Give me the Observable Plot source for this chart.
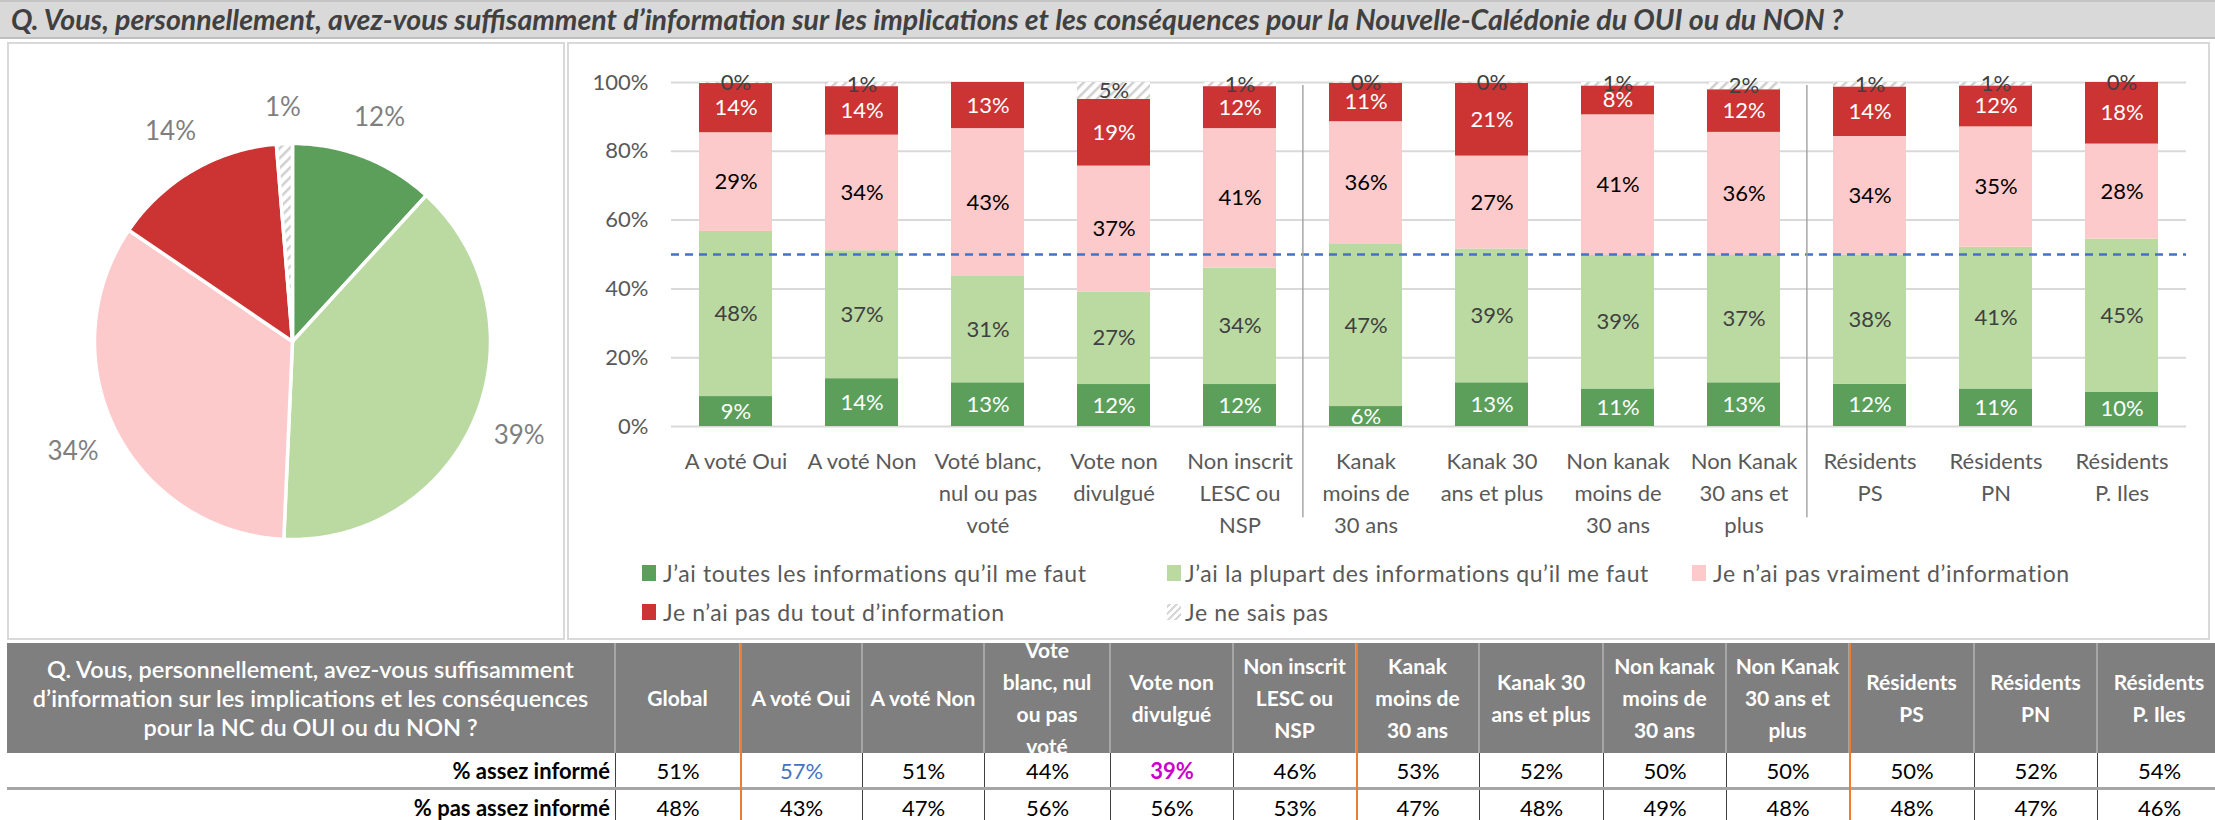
<!DOCTYPE html>
<html>
<head>
<meta charset="utf-8">
<script src="https://cdn.jsdelivr.net/npm/d3@7"></script>
<script src="https://cdn.jsdelivr.net/npm/@observablehq/plot@0.6"></script>
<style>
  html, body { margin: 0; padding: 0; background: #fff; }
  body { font-family: Lato, "Open Sans", sans-serif; }
  #root { position: relative; width: 2215px; height: 820px; overflow: hidden; background: #fff; }
  .abs { position: absolute; }
  #title { position: absolute; left: 0; top: 0; width: 2215px; height: 35px; background: #d9d9d9;
           border-top: 2px solid #c4c4c4; border-bottom: 2px solid #bfbfbf;
           font-weight: 700; font-style: italic; font-size: 28.5px; color: #404040;
           line-height: 35px; padding-left: 11px; box-sizing: content-box; white-space: nowrap; }
  .panel { position: absolute; border: 2px solid #d9d9d9; box-sizing: border-box; background: #fff; }
  .cell { position: absolute; display: flex; align-items: center; justify-content: center; overflow: hidden;
          box-sizing: border-box; white-space: pre-line; text-align: center; }
  .lg-sw { position: absolute; width: 14px; height: 16px; }
  .lg-tx { position: absolute; font-size: 23px; letter-spacing: 0.6px; color: #595959; white-space: nowrap; line-height: 24px; }
</style>
</head>
<body>
<div id="root">
  <svg width="0" height="0" style="position:absolute">
    <defs>
      <pattern id="hatch" patternUnits="userSpaceOnUse" width="7" height="7" patternTransform="rotate(45)">
        <rect width="7" height="7" fill="#ffffff"></rect>
        <rect width="2.5" height="7" fill="#cfcfcf"></rect>
      </pattern>
    </defs>
  </svg>
  <div id="title"></div>
  <div class="panel" style="left:7px;top:42px;width:558px;height:598px"></div>
  <div class="panel" style="left:567px;top:42px;width:1643px;height:598px"></div>
  <div id="pie" class="abs" style="left:7px;top:42px"></div>
  <div id="bars" class="abs" style="left:568px;top:42px"></div>
  <div id="legend"></div>
  <div id="table"></div>
</div>
<script>
// ---------------- DATA ----------------
const titleText = "Q. Vous, personnellement, avez-vous suffisamment d’information sur les implications et les conséquences pour la Nouvelle-Calédonie du OUI ou du NON ?";

const series = [
  "J’ai toutes les informations qu’il me faut",
  "J’ai la plupart des informations qu’il me faut",
  "Je n’ai pas vraiment d’information",
  "Je n’ai pas du tout d’information",
  "Je ne sais pas"
];
const seriesColors = ["#5b9f5b", "#badaa2", "#fdcacb", "#cc3333", "url(#hatch)"];
const labelColors = ["#ffffff", "#404040", "#000000", "#ffffff", "#404040"];

// Pie (Global)
const pieValues = [11.8, 38.9, 33.8, 14.2, 1.3];

// Stacked bars
const categories = ["A voté Oui", "A voté Non", "Voté blanc, nul ou pas voté", "Vote non divulgué",
  "Non inscrit LESC ou NSP", "Kanak moins de 30 ans", "Kanak 30 ans et plus", "Non kanak moins de 30 ans",
  "Non Kanak 30 ans et plus", "Résidents PS", "Résidents PN", "Résidents P. Iles"];
const categoryLabels = ["A voté Oui", "A voté Non", "Voté blanc,\nnul ou pas\nvoté", "Vote non\ndivulgué",
  "Non inscrit\nLESC ou\nNSP", "Kanak\nmoins de\n30 ans", "Kanak 30\nans et plus", "Non kanak\nmoins de\n30 ans",
  "Non Kanak\n30 ans et\nplus", "Résidents\nPS", "Résidents\nPN", "Résidents\nP. Iles"];
const toutes      = [8.7, 13.9, 12.7, 12.2, 12.2, 5.8, 12.7, 10.9, 12.7, 12.3, 10.9, 10.0];
const plupart     = [48.0, 37.2, 30.9, 26.8, 33.8, 47.1, 38.9, 38.8, 37.0, 37.6, 41.2, 44.5];
const pasVraiment = [28.7, 33.6, 43.0, 36.7, 40.6, 35.7, 27.0, 40.9, 35.8, 34.4, 35.0, 27.6];
const pasDuTout   = [14.3, 14.1, 13.4, 19.4, 12.2, 11.2, 21.2, 8.4, 12.4, 14.4, 11.9, 17.9];
const nsp         = [0.3, 1.2, null, 4.9, 1.2, 0.2, 0.2, 1.0, 2.1, 1.3, 1.0, 0.0];
const groupStarts = ["Kanak moins de 30 ans", "Résidents PS"];
const yTicks = [0, 20, 40, 60, 80, 100];
const threshold = 50;

// Table
const tableQuestion = "Q. Vous, personnellement, avez-vous suffisamment\nd’information sur les implications et les conséquences\npour la NC du OUI ou du NON ?";
const tableHeaders = ["Global", "A voté Oui", "A voté Non", "Vote\nblanc, nul\nou pas\nvoté", "Vote non\ndivulgué",
  "Non inscrit\nLESC ou\nNSP", "Kanak\nmoins de\n30 ans", "Kanak 30\nans et plus", "Non kanak\nmoins de\n30 ans",
  "Non Kanak\n30 ans et\nplus", "Résidents\nPS", "Résidents\nPN", "Résidents\nP. Iles"];
const rowLabels = ["% assez informé", "% pas assez informé"];
const assezInforme    = [51, 57, 51, 44, 39, 46, 53, 52, 50, 50, 50, 52, 54];
const pasAssezInforme = [48, 43, 47, 56, 56, 53, 47, 48, 49, 48, 48, 47, 46];

// ---------------- TITLE ----------------
document.getElementById("title").textContent = titleText;

// ---------------- PIE ----------------
{
  const PW = 557, PH = 598, R = 198, cx = 285, cy = 299;
  const pts = [], labs = [];
  let acc = 0;
  pieValues.forEach((v, k) => {
    const a0 = acc / 100 * 2 * Math.PI, a1 = (acc + v) / 100 * 2 * Math.PI;
    const n = Math.max(2, Math.ceil(v * 4));
    pts.push({series: series[k], x: 0, y: 0});
    for (let j = 0; j <= n; j++) {
      const a = a0 + (a1 - a0) * j / n;
      pts.push({series: series[k], x: Math.sin(a), y: Math.cos(a)});
    }
    pts.push({series: series[k], x: 0, y: 0});
    const am = (a0 + a1) / 2, sx = Math.sin(am), sy = Math.cos(am);
    const ext = 22 * Math.abs(sx) + 13 * Math.abs(sy);
    const lr = (R + 22 + ext) / R;
    labs.push({x: lr * sx, y: lr * sy, text: Math.round(v) + "%"});
    acc += v;
  });
  const pie = Plot.plot({
    width: PW, height: PH, margin: 0,
    style: {fontFamily: "Lato, sans-serif", background: "transparent", overflow: "visible"},
    x: {domain: [-cx / R, (PW - cx) / R], axis: null},
    y: {domain: [-(PH - cy) / R, cy / R], axis: null},
    color: {domain: series, range: seriesColors},
    marks: [
      Plot.line(pts, {x: "x", y: "y", z: "series", fill: "series", stroke: "#ffffff", strokeWidth: 3.5, strokeLinejoin: "round"}),
      Plot.text(labs, {x: "x", y: "y", text: "text", fontSize: 26, fill: "#7f7f7f"})
    ]
  });
  document.getElementById("pie").appendChild(pie);
}

// ---------------- BARS ----------------
{
  const W = 1642, H = 598, mL = 103, mR = 24, mT = 40, mB = 214;
  const seriesValues = [toutes, plupart, pasVraiment, pasDuTout, nsp];
  const rows = [];
  categories.forEach((c, i) => {
    let acc = 0;
    seriesValues.forEach((vals, s) => {
      const v = vals[i];
      if (v == null) return;
      rows.push({cat: c, series: series[s], value: v, y1: acc, y2: acc + v});
      acc += v;
    });
  });
  const step = (W - mL - mR) / categories.length;
  const bars = Plot.plot({
    width: W, height: H, marginLeft: mL, marginRight: mR, marginTop: mT, marginBottom: mB,
    style: {fontFamily: "Lato, sans-serif", color: "#595959", background: "transparent", overflow: "visible"},
    x: {type: "band", domain: categories, paddingInner: 0.42, paddingOuter: 0.21},
    y: {domain: [0, 100]},
    color: {domain: series, range: seriesColors},
    marks: [
      Plot.ruleY(yTicks, {y: d => d, stroke: "#d9d9d9", strokeWidth: 2}),
      Plot.barY(rows, {x: "cat", y1: "y1", y2: "y2", fill: "series"}),
      ...series.map((s, k) => Plot.text(rows.filter(r => r.series === s), {
        x: "cat", y: r => (r.y1 + r.y2) / 2, text: r => Math.round(r.value) + "%",
        fill: labelColors[k], fontSize: 22
      })),
      Plot.ruleY([threshold], {y: d => d, stroke: "#4472c4", strokeWidth: 2.5, strokeDasharray: "8,6"}),
      Plot.ruleX(groupStarts, {x: d => d, dx: -step / 2, y1: 99.1, y2: -26.5, stroke: "#a6a6a6", strokeWidth: 1.5}),
      Plot.axisY({ticks: yTicks, tickSize: 0, tickPadding: 23, tickFormat: d => d + "%", fontSize: 22, label: null}),
      Plot.axisX({tickSize: 0, tickPadding: 20, fontSize: 22, lineHeight: 32 / 22, label: null,
        tickFormat: d => categoryLabels[categories.indexOf(d)]})
    ]
  });
  document.getElementById("bars").appendChild(bars);
}

// ---------------- LEGEND ----------------
{
  const legendLayout = [[642, 663, 573], [1167, 1185, 573], [1692, 1713, 573], [642, 663, 612], [1167, 1185, 612]];
  const lg = document.getElementById("legend");
  series.forEach((s, k) => {
    const [sx, tx0, ly] = legendLayout[k];
    const sw = document.createElement("div");
    sw.className = "lg-sw";
    sw.style.left = sx + "px";
    sw.style.top = (ly - 8) + "px";
    if (k === 4) sw.style.background = "repeating-linear-gradient(-45deg, #ffffff 0 3px, #d6d6d6 3px 5px)";
    else sw.style.background = seriesColors[k];
    lg.appendChild(sw);
    const tx = document.createElement("div");
    tx.className = "lg-tx";
    tx.style.left = tx0 + "px";
    tx.style.top = (ly - 12) + "px";
    tx.textContent = s;
    lg.appendChild(tx);
  });
}

// ---------------- TABLE ----------------
{
  const edges = [7, 616, 741, 863, 985, 1111, 1234, 1357, 1480, 1604, 1727, 1850, 1975, 2098, 2222];
  const orangeAt = [741, 1357, 1850];
  const hTop = 643, hH = 110, r1Top = 753, rH = 34, sepH = 3;
  const tb = document.getElementById("table");
  function cell(x0, x1, y0, h, text, css) {
    const d = document.createElement("div");
    d.className = "cell";
    d.style.left = x0 + "px"; d.style.width = (x1 - x0) + "px";
    d.style.top = y0 + "px"; d.style.height = h + "px";
    Object.assign(d.style, css || {});
    const sp = document.createElement("span");
    sp.textContent = text;
    d.appendChild(sp);
    tb.appendChild(d);
    return d;
  }
  cell(edges[0], edges[1], hTop, hH, tableQuestion, {background: "#7f7f7f", color: "#fff", fontSize: "23.5px", lineHeight: "29px", borderRight: "2px solid #a6a6a6", fontWeight: "600"});
  tableHeaders.forEach((h, i) => {
    cell(edges[i + 1], edges[i + 2], hTop, hH, h, {background: "#7f7f7f", color: "#fff", fontSize: "21px", fontWeight: "700", lineHeight: "32px", borderRight: "2px solid #a6a6a6"});
  });
  const rowVals = [assezInforme, pasAssezInforme];
  rowVals.forEach((vals, r) => {
    const y0 = r1Top + r * (rH + sepH);
    cell(edges[0], edges[1], y0, rH, rowLabels[r], {justifyContent: "flex-end", paddingRight: "5px", fontSize: "22px", fontWeight: "700", color: "#000", borderRight: "1px solid #404040"});
    vals.forEach((v, i) => {
      const css = {fontSize: "22px", color: "#000", borderRight: "1px solid #404040"};
      if (r === 0 && i === 1) css.color = "#4472c4";
      if (r === 0 && i === 4) { css.color = "#cc00cc"; css.fontWeight = "700"; }
      cell(edges[i + 1], edges[i + 2], y0, rH, v + "%", css);
    });
    if (r === 0) {
      const s = document.createElement("div");
      s.className = "abs";
      Object.assign(s.style, {left: edges[0] + "px", width: (edges[edges.length - 1] - edges[0]) + "px", top: (y0 + rH) + "px", height: sepH + "px", background: "#a6a6a6"});
      tb.appendChild(s);
    }
  });
  orangeAt.forEach(x => {
    const o = document.createElement("div");
    o.className = "abs";
    Object.assign(o.style, {left: (x - 1) + "px", width: "2px", top: hTop + "px", height: (820 - hTop) + "px", background: "#ed7d31"});
    tb.appendChild(o);
  });
}
</script>
</body>
</html>
